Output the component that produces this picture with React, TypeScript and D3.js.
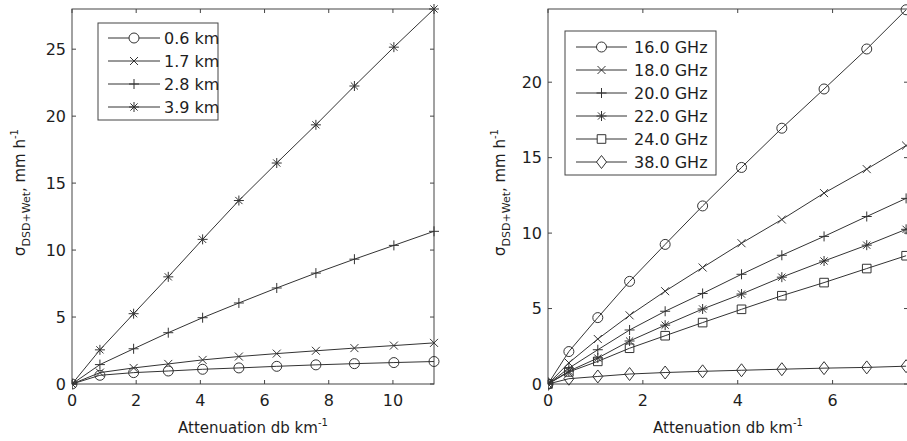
import React from "react";
import * as d3 from "d3";

// ---------- Data ----------
const leftX = [0, 0.87, 1.92, 3.0, 4.07, 5.2, 6.38, 7.6, 8.8, 10.03, 11.28];
const leftNames = ["0.6 km", "1.7 km", "2.8 km", "3.9 km"];
const leftMarkers = ["circle", "x", "plus", "star"];
const left06 = [0, 0.65, 0.85, 0.97, 1.1, 1.2, 1.32, 1.43, 1.52, 1.6, 1.68];
const left17 = [0, 0.85, 1.2, 1.5, 1.8, 2.05, 2.27, 2.48, 2.68, 2.87, 3.07];
const left28 = [0, 1.45, 2.63, 3.83, 4.95, 6.05, 7.17, 8.28, 9.32, 10.35, 11.4];
const left39 = [0, 2.55, 5.25, 8.0, 10.8, 13.7, 16.5, 19.35, 22.25, 25.15, 28.0];
const leftXTicks = [0, 2, 4, 6, 8, 10];
const leftYTicks = [0, 5, 10, 15, 20, 25];

const rightX = [0, 0.44, 1.05, 1.72, 2.47, 3.26, 4.08, 4.93, 5.82, 6.72, 7.55];
const rightNames = ["16.0 GHz", "18.0 GHz", "20.0 GHz", "22.0 GHz", "24.0 GHz", "38.0 GHz"];
const rightMarkers = ["circle", "x", "plus", "star", "square", "diamond"];
const right16 = [0, 2.15, 4.4, 6.8, 9.25, 11.8, 14.35, 16.95, 19.55, 22.2, 24.8];
const right18 = [0, 1.4, 2.98, 4.55, 6.15, 7.72, 9.33, 10.9, 12.65, 14.24, 15.8];
const right20 = [0, 1.05, 2.27, 3.58, 4.82, 6.0, 7.27, 8.53, 9.78, 11.1, 12.3];
const right22 = [0, 0.85, 1.72, 2.85, 3.9, 4.97, 5.96, 7.08, 8.15, 9.2, 10.25];
const right24 = [0, 0.8, 1.5, 2.37, 3.2, 4.07, 4.95, 5.85, 6.72, 7.65, 8.5];
const right38 = [0, 0.35, 0.5, 0.66, 0.76, 0.84, 0.91, 0.98, 1.05, 1.1, 1.18];
const rightXTicks = [0, 2, 4, 6];
const rightYTicks = [0, 5, 10, 15, 20];

const xLabel = "Attenuation db km";

// ---------- Styling ----------
const FONT = "DejaVu Sans, sans-serif";
const LINE = "#333";
const AXIS = "#444";
const TEXT = "#1e1e1e";

function markerPath(type: string, x: number, y: number): string {
  const p = d3.path();
  if (type === "circle") {
    p.moveTo(x + 5, y);
    p.arc(x, y, 5, 0, Math.PI * 2);
  } else if (type === "x") {
    const s = 4;
    p.moveTo(x - s, y - s); p.lineTo(x + s, y + s);
    p.moveTo(x - s, y + s); p.lineTo(x + s, y - s);
  } else if (type === "plus") {
    const s = 5;
    p.moveTo(x - s, y); p.lineTo(x + s, y);
    p.moveTo(x, y - s); p.lineTo(x, y + s);
  } else if (type === "star") {
    const s = 5, d = 3.6;
    p.moveTo(x - s, y); p.lineTo(x + s, y);
    p.moveTo(x, y - s); p.lineTo(x, y + s);
    p.moveTo(x - d, y - d); p.lineTo(x + d, y + d);
    p.moveTo(x - d, y + d); p.lineTo(x + d, y - d);
  } else if (type === "square") {
    const s = 4.3;
    p.rect(x - s, y - s, 2 * s, 2 * s);
  } else if (type === "diamond") {
    const w = 5, h = 6.5;
    p.moveTo(x, y - h); p.lineTo(x + w, y); p.lineTo(x, y + h); p.lineTo(x - w, y); p.closePath();
  }
  return p.toString();
}

type PanelProps = {
  xs: number[];
  series: number[][];
  names: string[];
  markers: string[];
  xDomain: [number, number];
  yDomain: [number, number];
  x0: number; x1: number; y0: number; y1: number;
  xTicks: number[]; yTicks: number[];
  legend: { left: number; top: number; right: number; bottom: number; lineX0: number; lineX1: number; textX: number; rowY0: number; rowDy: number };
  yLabelX: number;
};

function Panel(props: PanelProps) {
  const { xs, series, names, markers, xDomain, yDomain, x0, x1, y0, y1, xTicks, yTicks, legend, yLabelX } = props;
  const xScale = d3.scaleLinear().domain(xDomain).range([x0, x1]);
  const yScale = d3.scaleLinear().domain(yDomain).range([y1, y0]);
  const line = d3.line<number>().x((_, i) => xScale(xs[i])).y((d) => yScale(d));
  const tl = 4;
  const markerX = (legend.lineX0 + legend.lineX1) / 2;
  const cy = (y0 + y1) / 2;
  const cx = (x0 + x1) / 2;
  return (
    <g>
      <defs>
        <clipPath id={`clip-${x0}`}>
          <rect x={x0} y={y0 - 8} width={x1 - x0 + 8} height={y1 - y0 + 16} />
        </clipPath>
      </defs>
      {/* axes box */}
      <rect x={x0} y={y0} width={x1 - x0} height={y1 - y0} fill="none" stroke={AXIS} strokeWidth={1} />
      {xTicks.map((t) => (
        <g key={`xt${t}`}>
          <line x1={xScale(t)} x2={xScale(t)} y1={y1} y2={y1 - tl} stroke={AXIS} />
          <line x1={xScale(t)} x2={xScale(t)} y1={y0} y2={y0 + tl} stroke={AXIS} />
          <text x={xScale(t)} y={y1 + 22} textAnchor="middle" fontFamily={FONT} fontSize={16} fill={TEXT}>{t}</text>
        </g>
      ))}
      {yTicks.map((t) => (
        <g key={`yt${t}`}>
          <line x1={x0} x2={x0 + tl} y1={yScale(t)} y2={yScale(t)} stroke={AXIS} />
          <line x1={x1} x2={x1 - tl} y1={yScale(t)} y2={yScale(t)} stroke={AXIS} />
          <text x={x0 - 6} y={yScale(t)} dy="0.36em" textAnchor="end" fontFamily={FONT} fontSize={16} fill={TEXT}>{t}</text>
        </g>
      ))}
      {/* data */}
      <g clipPath={`url(#clip-${x0})`}>
        {series.map((s, si) => (
          <g key={`s${si}`}>
            <path d={line(s) || ""} fill="none" stroke={LINE} strokeWidth={1} />
            {s.map((v, i) => (
              <path key={i} d={markerPath(markers[si], xScale(xs[i]), yScale(v))} fill="none" stroke={LINE} strokeWidth={1} />
            ))}
          </g>
        ))}
      </g>
      {/* legend */}
      <rect x={legend.left} y={legend.top} width={legend.right - legend.left} height={legend.bottom - legend.top} fill="white" stroke={AXIS} strokeWidth={1} />
      {names.map((n, i) => {
        const ry = legend.rowY0 + i * legend.rowDy;
        return (
          <g key={n}>
            <line x1={legend.lineX0} x2={legend.lineX1} y1={ry} y2={ry} stroke={LINE} />
            <path d={markerPath(markers[i], markerX, ry)} fill={markers[i] === "circle" || markers[i] === "square" || markers[i] === "diamond" ? "white" : "none"} stroke={LINE} />
            <text x={legend.textX} y={ry} dy="0.36em" fontFamily={FONT} fontSize={16} fill={TEXT}>{n}</text>
          </g>
        );
      })}
      {/* axis labels */}
      <text x={cx} y={y1 + 49} textAnchor="middle" fontFamily={FONT} fontSize={15} fill={TEXT}>
        {xLabel}
        <tspan dy={-7} fontSize={10}>-1</tspan>
      </text>
      <text transform={`translate(${yLabelX},${cy - 4}) rotate(-90)`} textAnchor="middle" fontFamily={FONT} fontSize={15} fill={TEXT}>
        σ
        <tspan dy={5} fontSize={11}>DSD+Wet</tspan>
        <tspan dy={-5}>, mm h</tspan>
        <tspan dy={-7} fontSize={10}>-1</tspan>
      </text>
    </g>
  );
}

export default function App() {
  return (
    <div style={{ position: "fixed", left: 0, top: 0, width: 907, height: 441, background: "white" }}>
      <svg width={907} height={441} style={{ display: "block" }}>
        <rect x={0} y={0} width={907} height={441} fill="white" />
        <Panel
          xs={leftX}
          series={[left06, left17, left28, left39]}
          names={leftNames}
          markers={leftMarkers}
          xDomain={[0, 11.28]}
          yDomain={[0, 28]}
          x0={72} x1={434} y0={9} y1={384}
          xTicks={leftXTicks} yTicks={leftYTicks}
          legend={{ left: 98, top: 23, right: 218, bottom: 120, lineX0: 108, lineX1: 160, textX: 164, rowY0: 38, rowDy: 23 }}
          yLabelX={25}
        />
        <Panel
          xs={rightX}
          series={[right16, right18, right20, right22, right24, right38]}
          names={rightNames}
          markers={rightMarkers}
          xDomain={[0, 7.59]}
          yDomain={[0, 24.85]}
          x0={548} x1={908} y0={9} y1={384}
          xTicks={rightXTicks} yTicks={rightYTicks}
          legend={{ left: 565, top: 31, right: 716, bottom: 175, lineX0: 576, lineX1: 627, textX: 634, rowY0: 47, rowDy: 23 }}
          yLabelX={505}
        />
      </svg>
    </div>
  );
}
